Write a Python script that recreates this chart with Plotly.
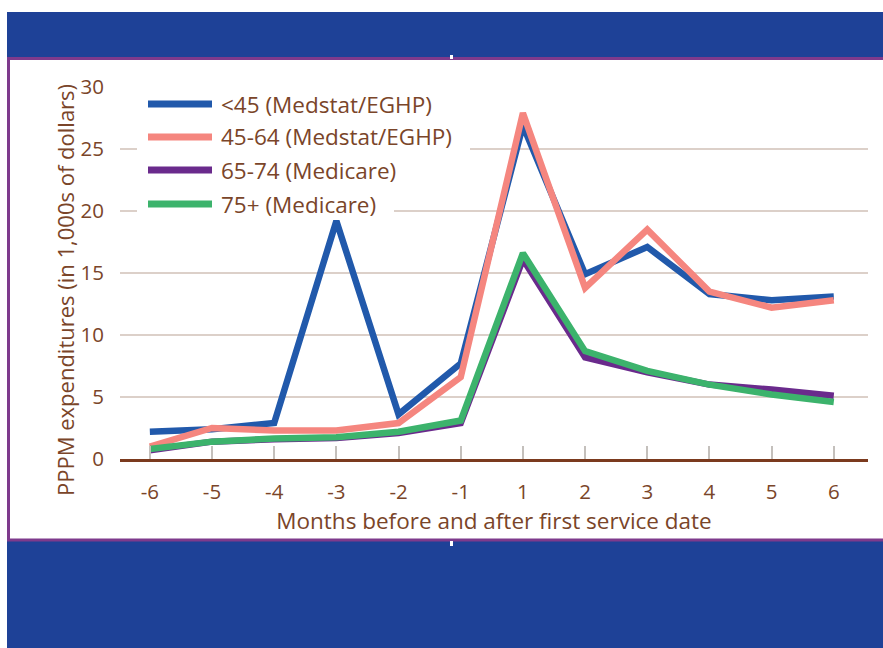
import plotly.graph_objects as go

# Months relative to first service date (no month 0)
months = ["-6", "-5", "-4", "-3", "-2", "-1", "1", "2", "3", "4", "5", "6"]

# PPPM expenditures, in 1,000s of dollars
under_45 = [2.2, 2.4, 2.9, 19.2, 3.6, 7.7, 26.9, 14.9, 17.1, 13.3, 12.8, 13.1]
age_45_64 = [1.0, 2.5, 2.3, 2.3, 2.9, 6.6, 27.9, 13.8, 18.5, 13.5, 12.2, 12.8]
age_65_74 = [0.7, 1.4, 1.6, 1.7, 2.1, 2.9, 16.1, 8.2, 7.0, 6.0, 5.6, 5.1]
age_75_up = [0.8, 1.4, 1.65, 1.75, 2.2, 3.1, 16.6, 8.7, 7.1, 6.0, 5.2, 4.6]

series_names = ["<45 (Medstat/EGHP)", "45-64 (Medstat/EGHP)",
                "65-74 (Medicare)", "75+ (Medicare)"]
series_values = [under_45, age_45_64, age_65_74, age_75_up]
series_colors = ["#2159ab", "#f5867f", "#6a2a8c", "#3cb36c"]

y_ticks = [0, 5, 10, 15, 20, 25, 30]

W, H = 883, 648
TEXT = "#7a4529"
FONT = "Open Sans"


def px(x):
    return x / W


def py(y):
    return 1 - y / H


fig = go.Figure()
for name, vals, col in zip(series_names, series_values, series_colors):
    fig.add_trace(go.Scatter(
        x=months, y=vals, name=name, mode="lines",
        line=dict(color=col, width=6.5), showlegend=False,
    ))

shapes = [
    # slide background and white panel
    dict(type="rect", xref="paper", yref="paper", layer="below",
         x0=px(7), x1=1, y0=0, y1=py(12),
         fillcolor="#1e4197", line=dict(width=0)),
    dict(type="rect", xref="paper", yref="paper", layer="below",
         x0=px(8.5), x1=px(890), y0=py(540), y1=py(58.5),
         fillcolor="#ffffff", line=dict(color="#7e3a8c", width=3)),
    dict(type="rect", xref="paper", yref="paper", layer="below",
         x0=px(450), x1=px(453), y0=py(59), y1=py(55),
         fillcolor="#ffffff", line=dict(width=0)),
    dict(type="rect", xref="paper", yref="paper", layer="below",
         x0=px(450), x1=px(453), y0=py(546), y1=py(541),
         fillcolor="#ffffff", line=dict(width=0)),
    # legend backdrop, one block per row width
    dict(type="rect", xref="paper", yref="paper", layer="above",
         x0=px(137), x1=px(470), y0=py(186), y1=py(90),
         fillcolor="#ffffff", line=dict(width=0)),
    dict(type="rect", xref="paper", yref="paper", layer="above",
         x0=px(137), x1=px(394), y0=py(217), y1=py(186),
         fillcolor="#ffffff", line=dict(width=0)),
]

annotations = [
    dict(text="PPPM expenditures (in 1,000s of dollars)", textangle=-90,
         xref="paper", yref="paper", x=px(65), y=py(290),
         xanchor="center", yanchor="middle",
         showarrow=False, font=dict(family=FONT, size=22, color=TEXT)),
]

row_y = [104, 137, 170, 204]
for name, col, ry in zip(series_names, series_colors, row_y):
    shapes.append(dict(type="line", xref="paper", yref="paper", layer="above",
                       x0=px(148), x1=px(212), y0=py(ry), y1=py(ry),
                       line=dict(color=col, width=7)))
    annotations.append(dict(text=name, xref="paper", yref="paper",
                            x=px(219), y=py(ry), xanchor="left", yanchor="middle",
                            showarrow=False,
                            font=dict(family=FONT, size=22.5, color=TEXT)))

fig.update_layout(
    width=W, height=H,
    margin=dict(l=0, r=0, t=0, b=0),
    paper_bgcolor="#ffffff",
    plot_bgcolor="rgba(0,0,0,0)",
    font=dict(family=FONT, color=TEXT),
    shapes=shapes,
    annotations=annotations,
    xaxis=dict(
        domain=[px(120), px(868)],
        type="category",
        categoryorder="array", categoryarray=months,
        range=[-0.48, 11.55],
        showgrid=False, zeroline=False,
        showline=True, linecolor="#7b3a1e", linewidth=2.5,
        ticks="inside", ticklen=13, tickwidth=1.5, tickcolor="#c4c0bc",
        ticklabelstandoff=13,
        tickfont=dict(family=FONT, size=20.5, color=TEXT),
        title=dict(text="Months before and after first service date",
                   font=dict(family=FONT, size=22.5, color=TEXT), standoff=6),
        automargin=False,
    ),
    yaxis=dict(
        domain=[py(459), py(87)],
        range=[0, 30],
        tickvals=y_ticks,
        showgrid=True, gridcolor="#dcd0c9", gridwidth=2,
        zeroline=False, showline=False,
        ticks="", ticklabelstandoff=15,
        tickfont=dict(family=FONT, size=20.5, color=TEXT),
        automargin=False,
    ),
)

fig.write_html("out.html")
